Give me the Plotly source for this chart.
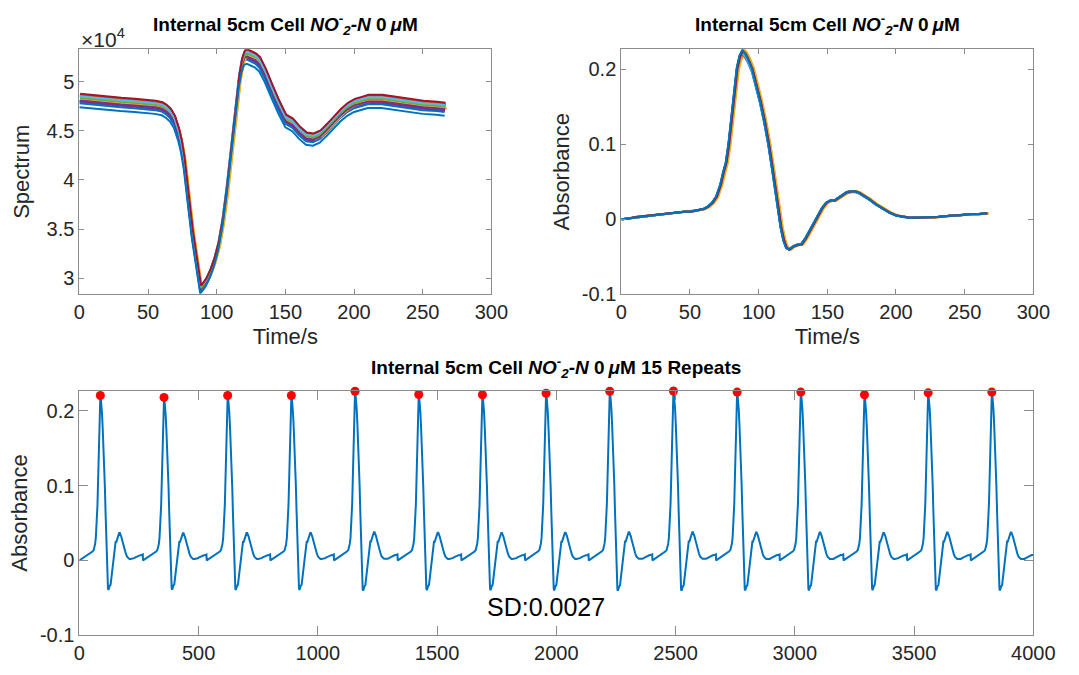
import plotly.graph_objects as go
import numpy as np

# ---------------- data ----------------
# base absorbance profile of one repeat (time in s, absorbance)
abs_t = [0, 5, 10, 15, 20, 25, 30, 35, 40, 45, 50, 55, 60, 63, 66, 69, 72, 74, 76, 78,
         80, 82, 84, 86, 88, 90, 92, 95, 98, 101, 104, 107, 110, 112, 114, 116, 118, 120,
         122, 125, 128, 131, 134, 137, 140, 143, 146, 149, 152, 155, 158, 161, 164, 167,
         170, 173, 176, 180, 185, 190, 195, 200, 205, 210, 215, 220, 225, 230, 235, 240,
         245, 250, 255, 260, 266]
abs_v = [0.000, 0.001, 0.003, 0.004, 0.005, 0.006, 0.007, 0.008, 0.009, 0.010, 0.010,
         0.012, 0.014, 0.017, 0.022, 0.030, 0.046, 0.062, 0.075, 0.100, 0.135, 0.172,
         0.200, 0.216, 0.223, 0.219, 0.212, 0.199, 0.178, 0.156, 0.130, 0.100, 0.064,
         0.038, 0.012, -0.011, -0.028, -0.038, -0.040, -0.036, -0.034, -0.033, -0.025,
         -0.015, -0.005, 0.006, 0.015, 0.022, 0.025, 0.025, 0.029, 0.033, 0.036, 0.037,
         0.037, 0.035, 0.032, 0.027, 0.020, 0.014, 0.009, 0.005, 0.003, 0.002, 0.002,
         0.002, 0.002, 0.003, 0.004, 0.005, 0.005, 0.006, 0.007, 0.007, 0.008]

# base spectrum profile of one repeat (time in s, counts)
spec_t = [0, 10, 20, 30, 40, 50, 55, 60, 63, 66, 69, 72, 74, 76, 78, 80, 82, 84, 86, 88,
          90, 92, 95, 98, 101, 104, 107, 110, 112, 114, 116, 118, 120, 122, 125, 128, 131,
          135, 140, 145, 150, 155, 160, 165, 170, 175, 180, 185, 190, 195, 200, 205, 210,
          220, 230, 240, 250, 260, 266]
spec_v = [48300, 48150, 48000, 47900, 47800, 47700, 47600, 47450, 47200, 46800, 46100,
          44800, 43600, 41900, 39700, 37000, 34600, 32600, 30500, 28950, 29300, 29700,
          30600, 31800, 33400, 35800, 39000, 42800, 45400, 47900, 50300, 51900, 52700,
          52800, 52600, 52400, 52000, 50900, 49200, 47600, 46200, 45800, 45000, 44400,
          44300, 44600, 45300, 46100, 46800, 47400, 47800, 48000, 48200, 48200, 48000,
          47800, 47600, 47500, 47400]

# per-repeat values (15 repeats)
peak_abs = [0.2205, 0.2179, 0.2205, 0.2205, 0.2262, 0.2218, 0.2214, 0.2235,
            0.2262, 0.2265, 0.2250, 0.2250, 0.2214, 0.2240, 0.2250]
spec_level = [0.995, 1.004, 0.998, 0.993, 1.001, 1.006, 1.008, 0.990,
              1.007, 0.997, 0.996, 1.002, 1.005, 1.010, 0.982]
lag_s = [0.0, 0.8, 1.5, 0.3, 0.5, 0.2, 0.6, 0.0, 0.8, 1.5, 0.3, 0.5, 0.2, 0.6, 0.0]
repeat_period = 267
sd_label = "SD:0.0027"

colors = ["#0072BD", "#D95319", "#EDB120", "#7E2F8E", "#77AC30", "#4DBEEE", "#A2142F"]

# ---------------- figure ----------------
fig = go.Figure()
abs_arr = np.array(abs_v)
base_peak = abs_arr.max()
big_x, big_y, pk_x, pk_y = [], [], [], []
for i in range(15):
    c = colors[i % 7]
    s = np.array(spec_v) * spec_level[i]
    ts = [t + lag_s[i] for t in spec_t]
    fig.add_trace(go.Scatter(x=ts, y=s, mode="lines", line=dict(color=c, width=2),
                             xaxis="x", yaxis="y", showlegend=False))
    a = abs_arr * peak_abs[i] / base_peak
    ta = [t + lag_s[i] for t in abs_t]
    fig.add_trace(go.Scatter(x=ta, y=a, mode="lines", line=dict(color=c, width=2),
                             xaxis="x2", yaxis="y2", showlegend=False))
    off = repeat_period * i
    big_x += [t + off for t in abs_t]
    big_y += list(a)
    k = int(np.argmax(a))
    pk_x.append(abs_t[k] + off)
    pk_y.append(a[k])

fig.add_trace(go.Scatter(x=big_x, y=big_y, mode="lines", line=dict(color="#0072BD", width=2),
                         xaxis="x3", yaxis="y3", showlegend=False))
fig.add_trace(go.Scatter(x=pk_x, y=pk_y, mode="markers", cliponaxis=False,
                         marker=dict(color="#FF0000", size=9), xaxis="x3", yaxis="y3",
                         showlegend=False))

W, H = 1079, 675
FONT = "Liberation Sans, Arial, Helvetica, sans-serif"
ax_common = dict(showline=True, linecolor="#8c8c8c", linewidth=1, mirror="ticks",
                 ticks="inside", tickcolor="#8c8c8c", showgrid=False, zeroline=False,
                 tickfont=dict(family=FONT, size=20, color="#262626"))

def xd(a, b):
    return [a / W, b / W]

def yd(top, bottom):
    return [1 - bottom / H, 1 - top / H]

title_font = dict(family=FONT, size=22, color="#262626")
fig.update_layout(
    width=W, height=H, margin=dict(l=0, r=0, t=0, b=0),
    paper_bgcolor="white", plot_bgcolor="white", showlegend=False,
    xaxis=dict(domain=xd(75.3, 498.3), range=[0, 300], anchor="y", ticklen=5,
               tickvals=[0, 50, 100, 150, 200, 250, 300],
               title=dict(text="Time/s", font=title_font, standoff=6), **ax_common),
    yaxis=dict(domain=yd(50, 299.3), range=[28330, 53340], anchor="x", ticklen=5,
               tickvals=[30000, 35000, 40000, 45000, 50000],
               ticktext=["3", "3.5", "4", "4.5", "5"],
               title=dict(text="Spectrum", font=title_font, standoff=10), **ax_common),
    xaxis2=dict(domain=xd(631.7, 1054.7), range=[0, 300], anchor="y2", ticklen=5,
                tickvals=[0, 50, 100, 150, 200, 250, 300],
                title=dict(text="Time/s", font=title_font, standoff=6), **ax_common),
    yaxis2=dict(domain=yd(50, 299.3), range=[-0.1, 0.2266], anchor="x2", ticklen=5,
                tickvals=[-0.1, 0, 0.1, 0.2], ticktext=["-0.1", "0", "0.1", "0.2"],
                title=dict(text="Absorbance", font=title_font, standoff=6), **ax_common),
    xaxis3=dict(domain=xd(75.3, 1054.7), range=[0, 4000], anchor="y3", ticklen=9,
                tickvals=[0, 500, 1000, 1500, 2000, 2500, 3000, 3500, 4000], **ax_common),
    yaxis3=dict(domain=yd(397.3, 645.7), range=[-0.1, 0.2267], anchor="x3", ticklen=9,
                tickvals=[-0.1, 0, 0.1, 0.2], ticktext=["-0.1", "0", "0.1", "0.2"],
                title=dict(text="Absorbance", font=title_font, standoff=6), **ax_common),
)

ttl = "<b>Internal 5cm Cell <i>NO<sup>-</sup><sub>2</sub>-N</i> 0\u2009<i>μ</i>M</b>"
tfont = dict(family=FONT, size=19, color="black")
fig.add_annotation(text=ttl, x=(75.3 + 498.3) / 2 / W, y=1 - 25 / H, xref="paper", yref="paper",
                   showarrow=False, font=tfont, xanchor="center", yanchor="middle")
fig.add_annotation(text=ttl, x=(631.7 + 1054.7) / 2 / W, y=1 - 25 / H, xref="paper", yref="paper",
                   showarrow=False, font=tfont, xanchor="center", yanchor="middle")
fig.add_annotation(text=ttl.replace("M</b>", "M 15 Repeats</b>"), x=(75.3 + 1054.7) / 2 / W,
                   y=1 - 374 / H, xref="paper", yref="paper", showarrow=False, font=tfont,
                   xanchor="center", yanchor="middle")
fig.add_annotation(text="×10<sup>4</sup>", x=75 / W, y=1 - 39 / H, xref="paper", yref="paper",
                   showarrow=False, font=dict(family=FONT, size=21, color="#262626"),
                   xanchor="left", yanchor="middle")
fig.add_annotation(text=sd_label, x=1700, y=-0.062, xref="x3", yref="y3", showarrow=False,
                   font=dict(family=FONT, size=25, color="black"), xanchor="left", yanchor="middle")

fig.write_html("out.html")
